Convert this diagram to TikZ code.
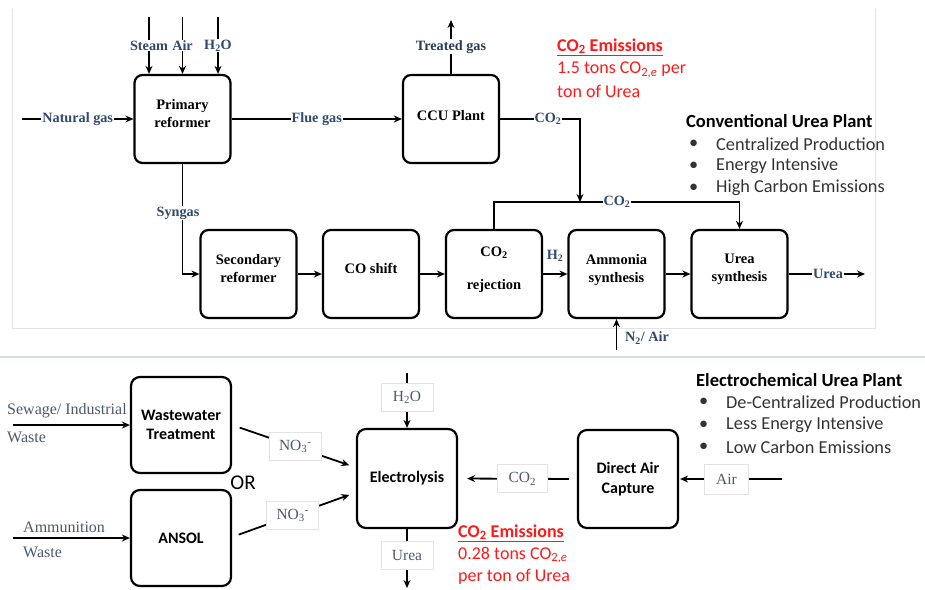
\documentclass[tikz,border=0pt]{standalone}
\usepackage{fontspec}
\setmainfont{Liberation Serif}
\newfontfamily\calib{Carlito}
\usetikzlibrary{arrows.meta,calc}
\definecolor{lblblue}{HTML}{2F4A6E}
\definecolor{lblgray}{HTML}{4A5A70}
\definecolor{emred}{HTML}{FF1A1A}
\definecolor{framegray}{HTML}{E3E3E3}
\definecolor{sepblue}{HTML}{D2DCEC}
\begin{document}
\begin{tikzpicture}[x=1pt,y=-1pt,
 proc/.style={draw, line width=2.2pt, rounded corners=8pt, minimum width=96pt, minimum height=88pt, align=center, font=\fontsize{14.5}{18}\selectfont\bfseries, inner sep=0pt, text depth=12pt},
 eproc/.style={draw, line width=2.2pt, rounded corners=9pt, minimum width=100pt, minimum height=97pt, align=center, font=\calib\fontsize{16}{19.5}\selectfont\bfseries, inner sep=0pt},
 flow/.style={line width=1.8pt, -{Stealth[length=8pt,width=7pt]}},
 tlbl/.style={fill=white, inner sep=1pt, text=lblblue, font=\fontsize{14.2}{16}\selectfont\bfseries},
 blbl/.style={fill=white, draw=framegray, line width=0.6pt, minimum width=52pt, minimum height=28pt, inner sep=1pt, text=lblgray, font=\fontsize{15.5}{18}\selectfont},
 srclbl/.style={anchor=west, inner sep=0pt, text=lblgray, font=\fontsize{16}{18}\selectfont},
 redtxt/.style={anchor=west, inner sep=0pt, text=emred, font=\calib\fontsize{18}{20}\selectfont},
 headtxt/.style={anchor=west, inner sep=0pt, font=\calib\fontsize{18.5}{20}\selectfont\bfseries},
 bultxt/.style={anchor=west, inner sep=0pt, text=black!80, font=\calib\fontsize{18.3}{20}\selectfont},
]
\useasboundingbox (0,0) rectangle (925,589);
% frames
\draw[framegray, line width=0.8pt] (12,9) -- (12,328) -- (875,328) -- (875,9);
\draw[sepblue, line width=2.5pt] (0,357) -- (925,357);

% ---------- top: conventional plant ----------
\node[proc] (pr) at (182.5,119) {Primary\\reformer};
\node[proc, text depth=8pt] (ccu) at (451,119) {CCU Plant};
\node[proc] (sec) at (248.5,274) {Secondary\\reformer};
\node[proc] (shift) at (371,274) {CO shift};
\node[proc] (rej) at (494,274) {CO\textsubscript{2}\\[15pt]rejection};
\node[proc] (amm) at (616.5,274) {Ammonia\\synthesis};
\node[proc] (urs) at (739.5,274) {Urea\\synthesis};

\coordinate (ng) at (22,119);
\coordinate (st) at (149,17);
\coordinate (ai) at (182.5,17);
\coordinate (hw) at (218,17);
\coordinate (tg) at (451,20);
\coordinate (cj) at (580,119);
\coordinate (cb) at (580,202);
\coordinate (ur) at (865,274);
\coordinate (n2) at (616.5,350);

\draw[flow] (ng) -- (pr.west) node[tlbl, midway] (lng) {Natural gas};
\draw[flow] (st) -- (st |- pr.north) node[tlbl, pos=0.5] (lst) {Steam};
\draw[flow] (ai) -- (pr.north) node[tlbl, pos=0.5] (lai) {Air};
\draw[flow] (hw) -- (hw |- pr.north) node[tlbl, pos=0.5] (lhw) {H\textsubscript{2}O};
\draw[flow] (pr.east) -- (ccu.west) node[tlbl, midway] (lfg) {Flue gas};
\draw[flow] (ccu.north) -- (tg) node[tlbl, pos=0.5, text=lblblue!80!black] (ltg) {Treated gas};
\draw[flow] (ccu.east) -- (cj) -- (cb);
\node[tlbl] (lc1) at (548,119) {CO\textsubscript{2}};
\draw[flow] (rej.north) -- (rej.north |- cb) -- (urs.north |- cb) -- (urs.north);
\node[tlbl] (lc2) at (617,202) {CO\textsubscript{2}};
\draw[flow] (pr.south) -- (pr.south |- sec.west) -- (sec.west);
\node[tlbl] (lsy) at (178,213) {Syngas};
\draw[flow] (sec.east) -- (shift.west);
\draw[flow] (shift.east) -- (rej.west);
\draw[flow] (rej.east) -- (amm.west);
\node[tlbl, fill=none] (lh2) at (555,256) {H\textsubscript{2}};
\draw[flow] (amm.east) -- (urs.west);
\draw[flow] (urs.east) -- (ur);
\node[tlbl] (lur) at (828,274) {Urea};
\draw[flow] (n2) -- (amm.south);
\node[tlbl, anchor=west, fill=none] (ln2) at (624,338) {N\textsubscript{2}/ Air};

\node[redtxt, font=\calib\fontsize{18}{20}\selectfont\bfseries] (e1) at (557,47) {\underline{CO\textsubscript{2} Emissions}};
\node[redtxt] (e2) at (557,70) {1.5 tons CO\textsubscript{2,\textit{e}} per};
\node[redtxt] (e3) at (557,91) {ton of Urea};

\node[headtxt] (h1) at (686,121) {Conventional Urea Plant};
\node[bultxt] (b11) at (689,144) {•};
\node[bultxt] (t11) at (716,144) {Centralized Production};
\node[bultxt] (b12) at (689,166) {•};
\node[bultxt] (t12) at (716,166) {Energy Intensive};
\node[bultxt] (b13) at (689,188) {•};
\node[bultxt] (t13) at (716,188) {High Carbon Emissions};

% ---------- bottom: electrochemical plant ----------
\node[eproc, minimum width=100pt, minimum height=96pt] (ww) at (181,425) {Wastewater\\Treatment};
\node[eproc, minimum width=100pt, minimum height=96pt] (ans) at (181,538) {ANSOL};
\node[eproc, minimum height=99pt] (el) at (407,478.5) {Electrolysis};
\node[eproc, minimum height=98pt] (dac) at (628,479) {Direct Air\\Capture};

\coordinate (sw) at (13,425);
\coordinate (am) at (13,538);
\coordinate (h2o) at (407,373);
\coordinate (uo) at (407,588);
\coordinate (air) at (782,479);

\draw[flow] (sw) -- (ww.west);
\node[srclbl] (ls1) at (7,411) {Sewage/ Industrial};
\node[srclbl] (ls2) at (7,437) {Waste};
\draw[flow] (am) -- (ans.west);
\node[srclbl] (la1) at (23,527) {Ammunition};
\node[srclbl] (la2) at (23,552) {Waste};

\draw[flow, shorten <=8pt, shorten >=7pt] (ww.east) -- ([yshift=11pt]el.west) node[blbl, pos=0.51] (no1) {NO\textsubscript{3}\textsuperscript{-}};
\draw[flow, shorten <=7pt, shorten >=7pt] ([yshift=1pt]ans.east) -- ([yshift=-14pt]el.west) node[blbl, pos=0.49] (no2) {NO\textsubscript{3}\textsuperscript{-}};
\node[font=\calib\fontsize{21}{24}\selectfont, inner sep=0pt] (or) at (243,483) {OR};

\draw[flow] (h2o) -- (el.north) node[blbl, pos=0.45] (lh) {H\textsubscript{2}O};
\draw[flow] (el.south) -- (uo) node[blbl, pos=0.44] (lu) {Urea};
\draw[flow, shorten <=8pt, shorten >=9pt] (dac.west) -- (el.east) node[blbl, pos=0.46, minimum width=50pt] (lco) {CO\textsubscript{2}};
\draw[flow, shorten >=1pt] (air) -- (dac.east) node[blbl, pos=0.54, minimum width=44pt, minimum height=30pt] (lai2) {Air};

\node[redtxt, font=\calib\fontsize{18}{20}\selectfont\bfseries] (f1) at (458,533) {\underline{CO\textsubscript{2} Emissions}};
\node[redtxt] (f2) at (458,555) {0.28 tons CO\textsubscript{2,\textit{e}}};
\node[redtxt] (f3) at (458,577) {per ton of Urea};

\node[headtxt] (h2) at (696,380) {Electrochemical Urea Plant};
\node[bultxt] (b21) at (699,402) {•};
\node[bultxt] (t21) at (726,402) {De-Centralized Production};
\node[bultxt] (b22) at (699,425) {•};
\node[bultxt] (t22) at (726,425) {Less Energy Intensive};
\node[bultxt] (b23) at (699,447) {•};
\node[bultxt] (t23) at (726,447) {Low Carbon Emissions};
\end{tikzpicture}
\end{document}
